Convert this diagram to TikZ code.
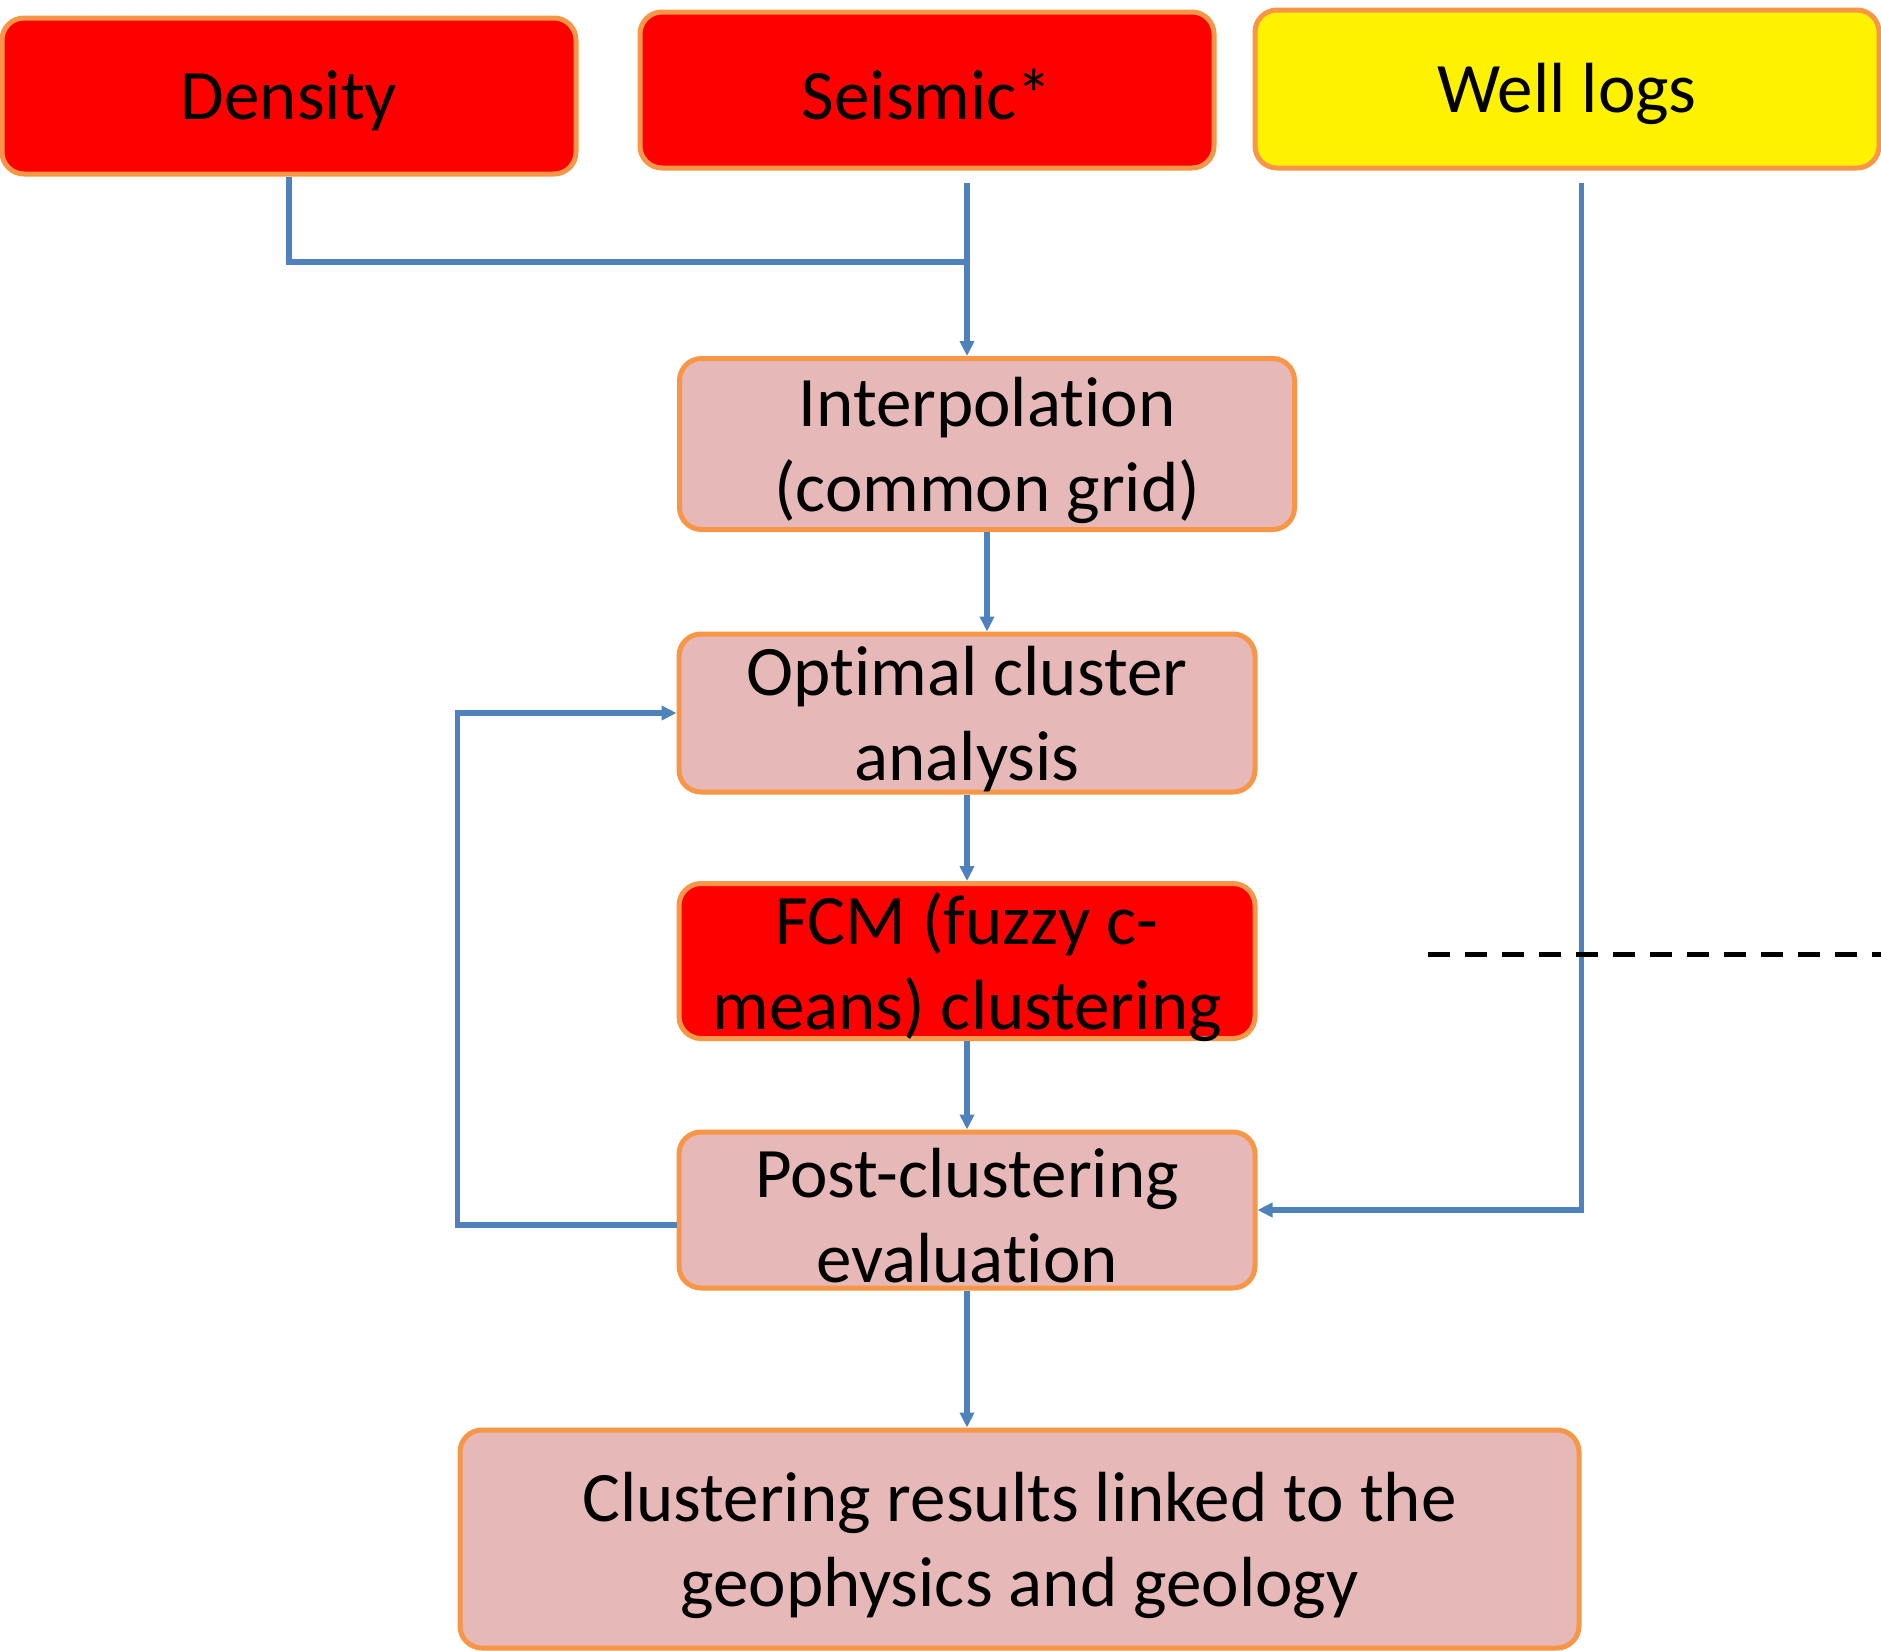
\documentclass[tikz,border=0pt]{standalone}
\usepackage{fontspec}
\setmainfont[Ligatures={NoCommon},RawFeature={-liga;-clig;-calt;-dlig}]{Carlito}
\usetikzlibrary{arrows.meta,calc}
\definecolor{bord}{HTML}{F79646}
\definecolor{pinkfill}{HTML}{E6B8B7}
\definecolor{linkblue}{HTML}{4F81BD}
\begin{document}
\begin{tikzpicture}[x=1pt,y=-1pt,
  box/.style={draw=bord, line width=5pt, rounded corners=22pt, inner sep=0pt},
  redbox/.style={box, fill=red},
  yelbox/.style={box, fill=yellow},
  pinkbox/.style={box, fill=pinkfill},
  lbl/.style={align=center, inner sep=0pt, font=\fontsize{71}{85}\selectfont, text=black},
  link/.style={draw=linkblue, line width=5.5pt},
  arr/.style={link, -{Triangle[length=15pt,width=14pt]}},
  dashline/.style={draw=black, line width=5pt, dash pattern=on 22pt off 15pt}
]
\useasboundingbox (0,0) rectangle (1881,1650);

\node[redbox, minimum width=574pt, minimum height=156pt] (dens) at (289,96) {};
\node[redbox, minimum width=574pt, minimum height=156pt] (seis) at (927,90) {};
\node[yelbox, minimum width=624pt, minimum height=158pt] (wells) at (1567,89) {};
\node[pinkbox, minimum width=615pt, minimum height=171pt] (interp) at (987,444) {};
\node[pinkbox, minimum width=576pt, minimum height=158pt] (opt) at (967,713) {};
\node[redbox, minimum width=576pt, minimum height=155pt] (fcm) at (967,961) {};
\node[pinkbox, minimum width=576pt, minimum height=156pt] (post) at (967,1210) {};
\node[pinkbox, minimum width=1119pt, minimum height=218pt] (res) at (1019.5,1539) {};

\node[lbl] (tdens) at ([yshift=-5pt]dens.center) {Density};
\node[lbl] (tseis) at ([yshift=-5pt]seis.center) {Seismic*};
\node[lbl] (twells) at ([yshift=-5pt]wells.center) {Well logs};
\node[lbl] (tinterp) at ([yshift=-6pt]interp.center) {Interpolation\\(common grid)};
\node[lbl] (topt) at ([yshift=-6pt]opt.center) {Optimal cluster\\analysis};
\node[lbl] (tfcm) at ([yshift=-6pt]fcm.center) {FCM (fuzzy c-\\means) clustering};
\node[lbl] (tpost) at ([yshift=-6pt]post.center) {Post-clustering\\evaluation};
\node[lbl] (tres) at ([yshift=-6pt]res.center) {Clustering results linked to the\\geophysics and geology};

\coordinate (j) at (967,262);
\coordinate (d1) at (1428,954);
\coordinate (d2) at (1881,954);

% inputs
\draw[link] (dens.south) |- (j);
\draw[arr, shorten <=12pt] (seis.south -| j) -- (interp.north -| j);
\draw[arr] (interp.south) -- (interp.south |- opt.north);
\draw[arr] (opt.south) -- (fcm.north);
\draw[arr] (fcm.south) -- (post.north);
\draw[arr] (post.south) -- (post.south |- res.north);
% well logs to evaluation
\draw[arr, shorten <=12pt] (wells.south -| res.east) |- (post.east);
% feedback loop
\draw[arr] ([yshift=-15pt]post.west) -| (res.west |- opt.west) -- (opt.west);
% dashed line
\draw[dashline] (d1) -- (d2);
\end{tikzpicture}
\end{document}
